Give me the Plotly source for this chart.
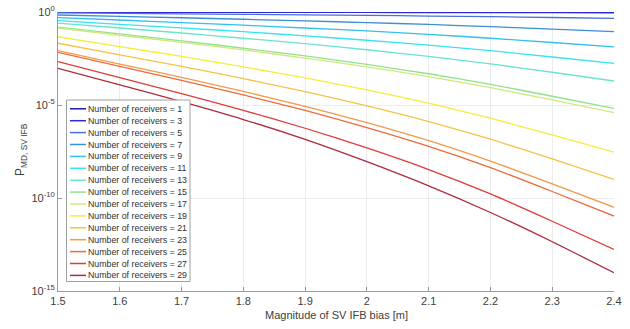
import plotly.graph_objects as go

# ---- data ----
bias_m = [1.5, 1.6, 1.7, 1.8, 1.9, 2.0, 2.1, 2.2, 2.3, 2.4]
receivers = [1, 3, 5, 7, 9, 11, 13, 15, 17, 19, 21, 23, 25, 27, 29]

# log10 of P_MD for each number of receivers
log10_pmd_n1 = [0.0, 0.0, 0.0, 0.0, 0.0, 0.0, -0.001, -0.002, -0.003, -0.005]
log10_pmd_n3 = [-0.01, -0.013, -0.015, -0.018, -0.021, -0.024, -0.027, -0.031, -0.036, -0.04]
log10_pmd_n5 = [-0.05, -0.075, -0.099, -0.125, -0.153, -0.183, -0.217, -0.254, -0.297, -0.34]
log10_pmd_n7 = [-0.16, -0.24, -0.31, -0.39, -0.48, -0.57, -0.67, -0.79, -0.92, -1.05]
log10_pmd_n9 = [-0.30, -0.43, -0.57, -0.71, -0.86, -1.02, -1.20, -1.41, -1.64, -1.87]
log10_pmd_n11 = [-0.46, -0.66, -0.85, -1.06, -1.28, -1.52, -1.78, -2.08, -2.42, -2.76]
log10_pmd_n13 = [-0.60, -0.86, -1.13, -1.41, -1.70, -2.03, -2.39, -2.79, -3.24, -3.71]
log10_pmd_n15 = [-0.81, -1.18, -1.55, -1.95, -2.36, -2.82, -3.32, -3.89, -4.53, -5.18]
log10_pmd_n17 = [-0.86, -1.25, -1.63, -2.04, -2.48, -2.95, -3.48, -4.07, -4.73, -5.41]
log10_pmd_n19 = [-1.33, -1.86, -2.39, -2.95, -3.54, -4.19, -4.90, -5.71, -6.61, -7.54]
log10_pmd_n21 = [-1.68, -2.30, -2.92, -3.58, -4.28, -5.05, -5.89, -6.84, -7.90, -9.00]
log10_pmd_n23 = [-2.08, -2.80, -3.51, -4.27, -5.07, -5.95, -6.92, -8.02, -9.24, -10.50]
log10_pmd_n25 = [-2.17, -2.92, -3.67, -4.46, -5.29, -6.22, -7.23, -8.37, -9.65, -10.97]
log10_pmd_n27 = [-2.67, -3.53, -4.39, -5.29, -6.25, -7.31, -8.47, -9.78, -11.25, -12.76]
log10_pmd_n29 = [-3.03, -3.92, -4.82, -5.78, -6.85, -8.05, -9.35, -10.78, -12.35, -14.02]

series = [log10_pmd_n1, log10_pmd_n3, log10_pmd_n5, log10_pmd_n7, log10_pmd_n9,
          log10_pmd_n11, log10_pmd_n13, log10_pmd_n15, log10_pmd_n17, log10_pmd_n19,
          log10_pmd_n21, log10_pmd_n23, log10_pmd_n25, log10_pmd_n27, log10_pmd_n29]

colors = ['#1c1ca6', '#2a2ad8', '#4f6fd8', '#3b8fd6', '#33bfee', '#38e2f0', '#6ae3cf',
          '#8fe38c', '#d2e87c', '#f6ec3a', '#f6c244', '#f29a4a', '#ec6a3c', '#de3b3b', '#ad2c3a']

x_ticks = [1.5, 1.6, 1.7, 1.8, 1.9, 2.0, 2.1, 2.2, 2.3, 2.4]
x_tick_text = ['1.5', '1.6', '1.7', '1.8', '1.9', '2', '2.1', '2.2', '2.3', '2.4']
y_ticks = [1e-15, 1e-10, 1e-5, 1]
y_tick_text = ['10<sup>-15</sup>', '10<sup>-10</sup>', '10<sup>-5</sup>', '10<sup>0</sup>']

# ---- figure ----
W, H = 630, 329
L, R, T = 58, 16, 12
pw = W - L - R
ph = 279
B = H - T - ph

font_family = 'Liberation Sans, Arial, sans-serif'
text_col = '#404040'

fig = go.Figure()
for n, vals, col in zip(receivers, series, colors):
    fig.add_trace(go.Scatter(
        x=bias_m, y=[10 ** v for v in vals], mode='lines',
        line=dict(color=col, width=1.3, shape='spline', smoothing=0.6),
        name=f'Number of receivers = {n}', showlegend=False, hoverinfo='skip'))

# custom compact legend (plotly's own legend rows cannot be this tight);
# positions below are given in window pixels of the reference
def px_x(p):
    return (p - L) / pw

def px_y(p):
    return (T + ph - p) / ph

shapes = [dict(type='rect', xref='paper', yref='paper',
               x0=px_x(66.5), x1=px_x(190), y0=px_y(281.5), y1=px_y(100),
               line=dict(color='#a0a0a0', width=1), fillcolor='white', layer='above')]
annotations = []
for i, (n, col) in enumerate(zip(receivers, colors)):
    yy = 108.8 + 11.9 * i
    shapes.append(dict(type='line', xref='paper', yref='paper',
                       x0=px_x(70), x1=px_x(86), y0=px_y(yy), y1=px_y(yy),
                       line=dict(color=col, width=1.5), layer='above'))
    annotations.append(dict(xref='paper', yref='paper', x=px_x(85.5), y=px_y(yy),
                            xanchor='left', yanchor='middle', showarrow=False,
                            text=f'Number of receivers = {n}',
                            font=dict(size=8.8, color='#303030', family=font_family)))

# axis titles placed as text so that they sit where the reference has them
annotations.append(dict(xref='paper', yref='paper', x=px_x(21), y=px_y(150),
                        xanchor='center', yanchor='middle', showarrow=False,
                        textangle=-90, text='P<sub>MD, SV IFB</sub>',
                        font=dict(size=12, color=text_col, family=font_family)))
annotations.append(dict(xref='paper', yref='paper', x=px_x(336), y=px_y(315),
                        xanchor='center', yanchor='middle', showarrow=False,
                        text='Magnitude of SV IFB bias [m]',
                        font=dict(size=11, color=text_col, family=font_family)))

fig.update_layout(
    width=W, height=H,
    margin=dict(l=L, r=R, t=T, b=B),
    paper_bgcolor='white', plot_bgcolor='white',
    font=dict(family=font_family, size=10.5, color=text_col),
    shapes=shapes, annotations=annotations,
    hovermode=False,
    xaxis=dict(range=[1.5, 2.4], tickvals=x_ticks, ticktext=x_tick_text,
               automargin=False, ticklabeloverflow='allow',
               showgrid=True, gridcolor='#ececec', gridwidth=1,
               showline=True, linecolor='#9a9a9a', linewidth=1,
               ticks='inside', ticklen=4, tickcolor='#9a9a9a',
               zeroline=False, tickfont=dict(size=11, color=text_col)),
    yaxis=dict(type='log', range=[-15, 0], tickvals=y_ticks, ticktext=y_tick_text,
               automargin=False, ticklabeloverflow='allow',
               showgrid=True, gridcolor='#ececec', gridwidth=1,
               showline=True, linecolor='#9a9a9a', linewidth=1,
               ticks='inside', ticklen=4, tickcolor='#9a9a9a',
               zeroline=False, tickfont=dict(size=11, color=text_col)),
)

# remove the browser's default 8 px page margin so the figure fills the window
fig.write_html('out.html',
               config={'displayModeBar': False, 'staticPlot': True},
               post_script="document.body.style.margin='0';"
                           "document.body.style.overflow='hidden';")
